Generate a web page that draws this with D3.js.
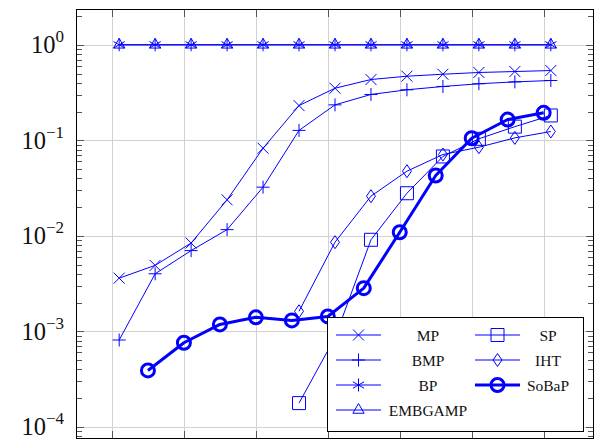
<!DOCTYPE html>
<html><head><meta charset="utf-8">
<script src="https://cdn.jsdelivr.net/npm/d3@7"></script>
<style>body{margin:0;background:#fff} text{font-family:"Liberation Serif","Times New Roman",serif}</style>
</head><body>
<svg id="c" width="597" height="444"></svg>
<script>
// ---- data ----
const xMain = [1, 6, 11, 16, 21, 26, 31, 36, 41, 46, 51, 56, 61];
const xSoBaP = [5, 10, 15, 20, 25, 30, 35, 40, 45, 50, 55, 60];
const xLate = [26, 31, 36, 41, 46, 51, 56, 61];
const MP = [0.0036, 0.0049, 0.0084, 0.0238, 0.0826, 0.231, 0.351, 0.433, 0.469, 0.492, 0.513, 0.525, 0.538];
const BMP = [0.00081, 0.0040, 0.0070, 0.0116, 0.0323, 0.127, 0.235, 0.302, 0.338, 0.366, 0.391, 0.409, 0.423];
const BP = [1, 1, 1, 1, 1, 1, 1, 1, 1, 1, 1, 1, 1];
const EMBGAMP = [1, 1, 1, 1, 1, 1, 1, 1, 1, 1, 1, 1, 1];
const SP = [0.000177, 0.00086, 0.00908, 0.0279, 0.0677, 0.1037, 0.139, 0.182];
const IHT = [0.00162, 0.00857, 0.026, 0.0475, 0.071, 0.0847, 0.106, 0.1236];
const SoBaP = [0.000389, 0.000758, 0.00118, 0.0014, 0.0013, 0.00143, 0.00283, 0.0109, 0.0428, 0.105, 0.165, 0.194];
const xTicks = [0, 10, 20, 30, 40, 50, 60];
const yTicks = [1, 0.1, 0.01, 0.001, 0.0001];
const yTickExp = ["0", "−1", "−2", "−3", "−4"];
const names = ["MP", "BMP", "BP", "EMBGAMP", "SP", "IHT", "SoBaP"];

// ---- layout ----
const L = 76, R = 594, T = 9, B = 439;
const blue = "#0000ff";
const svg = d3.select("#c");
const x = d3.scaleLinear().domain([-5, 67]).range([L, R]);
const y = d3.scaleLog().domain([Math.pow(10, -4.128), Math.pow(10, 0.375)]).range([B, T]);
const cx = v => Math.round(x(v)) + 0.5;
const cy = v => Math.round(y(v)) + 0.5;

// grid
const g = svg.append("g");
g.selectAll(".vg").data(xTicks).join("line")
  .attr("x1", d => cx(d)).attr("x2", d => cx(d)).attr("y1", T).attr("y2", B)
  .attr("stroke", "#d2d2d2").attr("stroke-width", 1);
g.selectAll(".hg").data(yTicks).join("line")
  .attr("y1", d => cy(d)).attr("y2", d => cy(d)).attr("x1", L).attr("x2", R)
  .attr("stroke", "#d2d2d2").attr("stroke-width", 1);

// ticks
const minor = [];
for (let e = -5; e <= 0; e++) for (let m = 2; m <= 9; m++) {
  const v = m * Math.pow(10, e);
  if (v >= y.domain()[0] && v <= y.domain()[1]) minor.push(v);
}
const tk = svg.append("g").attr("stroke", "#555").attr("stroke-width", 1);
[[L, 1], [R, -1]].forEach(([x0, s]) => {
  tk.selectAll(null).data(minor).join("line")
    .attr("x1", x0).attr("x2", x0 + s * 6).attr("y1", d => cy(d)).attr("y2", d => cy(d));
  tk.selectAll(null).data(yTicks).join("line")
    .attr("x1", x0).attr("x2", x0 + s * 8).attr("y1", d => cy(d)).attr("y2", d => cy(d));
});
[[B, -1], [T, 1]].forEach(([y0, s]) => {
  tk.selectAll(null).data(xTicks).join("line")
    .attr("y1", y0).attr("y2", y0 + s * 8).attr("x1", d => cx(d)).attr("x2", d => cx(d));
});

// y tick labels
const yl = svg.append("g");
yTicks.forEach((v, i) => {
  const t = yl.append("text").attr("x", 64).attr("y", y(v) + 8.5)
    .attr("text-anchor", "end").attr("font-size", 24.5).attr("fill", "#111");
  t.append("tspan").text("10");
  t.append("tspan").attr("dy", -11).attr("font-size", 17).text(yTickExp[i]);
});

// markers
function markerPath(type) {
  switch (type) {
    case "cross": { const s = 5.5; return `M${-s},${-s}L${s},${s}M${-s},${s}L${s},${-s}`; }
    case "plus": { const s = 6.5; return `M${-s},0L${s},0M0,${-s}L0,${s}`; }
    case "asterisk": { const s = 6.5, a = s * Math.cos(Math.PI / 6), b = s * 0.5;
      return `M0,${-s}L0,${s}M${-a},${-b}L${a},${b}M${-a},${b}L${a},${-b}`; }
    case "triangle": { const s = 6.5; return `M0,${-s}L${s * 0.866},${s * 0.5}L${-s * 0.866},${s * 0.5}Z`; }
    case "square": { const s = 6.5; return `M${-s},${-s}H${s}V${s}H${-s}Z`; }
    case "diamond": { const w = 4.5, h = 6.5; return `M0,${-h}L${w},0L0,${h}L${-w},0Z`; }
    case "circle": { const r = 6.5; return `M${r},0A${r},${r} 0 1 1 ${-r},0A${r},${r} 0 1 1 ${r},0Z`; }
  }
}
const series = [
  { name: names[0], xs: xMain, ys: MP, m: "cross", w: 1 },
  { name: names[1], xs: xMain, ys: BMP, m: "plus", w: 1 },
  { name: names[2], xs: xMain, ys: BP, m: "asterisk", w: 1 },
  { name: names[3], xs: xMain, ys: EMBGAMP, m: "triangle", w: 1 },
  { name: names[4], xs: xLate, ys: SP, m: "square", w: 1 },
  { name: names[5], xs: xLate, ys: IHT, m: "diamond", w: 1 },
  { name: names[6], xs: xSoBaP, ys: SoBaP, m: "circle", w: 3 }
];
const line = d3.line().x(d => x(d[0])).y(d => y(d[1]));
const plotG = svg.append("g");
series.forEach(s => {
  const pts = s.xs.map((v, i) => [v, s.ys[i]]);
  plotG.append("path").attr("d", line(pts)).attr("fill", "none")
    .attr("stroke", blue).attr("stroke-width", s.w).attr("stroke-linejoin", "round");
  plotG.selectAll(null).data(pts).join("path")
    .attr("transform", d => `translate(${x(d[0])},${y(d[1])})`)
    .attr("d", markerPath(s.m)).attr("fill", "none")
    .attr("stroke", blue).attr("stroke-width", s.w);
});

// frame
svg.append("rect").attr("x", L + 0.5).attr("y", T + 0.5).attr("width", R - L - 1).attr("height", B - T - 1)
  .attr("fill", "none").attr("stroke", "#000").attr("stroke-width", 1);

// legend
const lg = svg.append("g");
lg.append("rect").attr("x", 327.5).attr("y", 317.5).attr("width", 256).attr("height", 114)
  .attr("fill", "#fff").attr("stroke", "#000").attr("stroke-width", 1);
const cols = [{ x0: 336, x1: 381, tx: 428 }, { x0: 475, x1: 520, tx: 548 }];
const rowY = [335, 360, 385, 410];
series.forEach((s, i) => {
  const c = cols[i < 4 ? 0 : 1], ry = rowY[i < 4 ? i : i - 4];
  lg.append("line").attr("x1", c.x0).attr("x2", c.x1).attr("y1", ry).attr("y2", ry)
    .attr("stroke", blue).attr("stroke-width", s.w);
  lg.append("path").attr("transform", `translate(${(c.x0 + c.x1) / 2},${ry})`)
    .attr("d", markerPath(s.m)).attr("fill", "none").attr("stroke", blue).attr("stroke-width", s.w);
  lg.append("text").attr("x", c.tx).attr("y", ry + 5.5).attr("text-anchor", "middle")
    .attr("font-size", 15.5).attr("fill", "#111").text(s.name);
});
</script>
</body></html>
